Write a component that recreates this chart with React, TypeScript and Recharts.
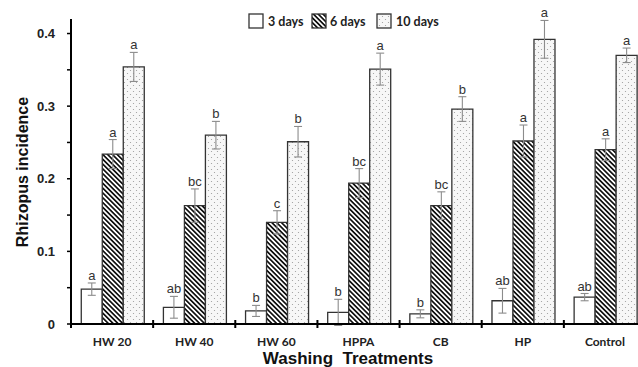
import React from "react";
import { Bar, BarChart, ErrorBar, LabelList, XAxis, YAxis, Label } from "recharts";

// Washing treatments vs Rhizopus incidence at 3 / 6 / 10 days
const treatments = ["HW 20", "HW 40", "HW 60", "HPPA", "CB", "HP", "Control"];

const day3 = [0.048, 0.023, 0.018, 0.016, 0.014, 0.032, 0.037];
const day3Err = [0.0085, 0.015, 0.0076, 0.018, 0.0055, 0.017, 0.005];
const day3Letters = ["a", "ab", "b", "b", "b", "ab", "ab"];

const day6 = [0.234, 0.163, 0.14, 0.194, 0.163, 0.252, 0.24];
const day6Err = [0.02, 0.023, 0.016, 0.02, 0.019, 0.022, 0.015];
const day6Letters = ["a", "bc", "c", "bc", "bc", "a", "a"];

const day10 = [0.354, 0.26, 0.251, 0.351, 0.296, 0.392, 0.37];
const day10Err = [0.02, 0.019, 0.021, 0.022, 0.017, 0.026, 0.01];
const day10Letters = ["a", "b", "b", "a", "b", "a", "a"];

const yTicks = [0, 0.05, 0.1, 0.15, 0.2, 0.25, 0.3, 0.35, 0.4];

const data = treatments.map((name, i) => ({
  name,
  d3: day3[i],
  e3: day3Err[i],
  d6: day6[i],
  e6: day6Err[i],
  d10: day10[i],
  e10: day10Err[i],
}));

// layout
const CHART_W = 660;
const CHART_H = 367;
const MARGIN = { top: 19, right: 14, bottom: 0, left: 0 };
const Y_AXIS_W = 71;
const X_AXIS_H = 43;
const AXIS_Y = CHART_H - MARGIN.bottom - X_AXIS_H;
const BAND = (CHART_W - MARGIN.right - MARGIN.left - Y_AXIS_W) / treatments.length;

const ARIAL = "'Liberation Sans', Arial, sans-serif";
const CALIBRI = "Lato, 'Open Sans', sans-serif";
const BAR_STROKE = "#333";
const ERR_STROKE = "#8c8c8c";

function letterLabel(letters: string[], errs: number[]) {
  return (props: any) => {
    const { x = 0, y = 0, width = 0, height = 0, value, index = 0 } = props;
    const v = Number(value);
    // error bar length in px, from the bar's own scale (height / value)
    const errPx = v ? (Number(height) * errs[index]) / v : 0;
    return (
      <text
        x={Number(x) + Number(width) / 2}
        y={Number(y) - errPx - 3}
        textAnchor="middle"
        fontSize={13}
        fontFamily={ARIAL}
        fill="#333"
      >
        {letters[index]}
      </text>
    );
  };
}

/** Category label centred, with a boundary tick mark on the axis at the band's left edge. */
function TreatmentTick({ x = 0, payload }: { x?: number; payload?: { value?: string } }) {
  const left = x - BAND / 2;
  return (
    <g>
      <line x1={left} x2={left} y1={AXIS_Y - 4} y2={AXIS_Y + 4} stroke="#000" strokeWidth={2} />
      <text
        x={x}
        y={AXIS_Y + 22}
        textAnchor="middle"
        fontSize={12}
        fontWeight={700}
        fontFamily={CALIBRI}
        fill="#222"
      >
        {payload?.value ?? ""}
      </text>
    </g>
  );
}

function Patterns({ prefix }: { prefix: string }) {
  return (
    <defs>
      <pattern
        id={`${prefix}-hatch`}
        patternUnits="userSpaceOnUse"
        width={3.4}
        height={3.4}
        patternTransform="rotate(-45)"
      >
        <rect width={3.4} height={3.4} fill="#fff" />
        <rect width={1.7} height={3.4} fill="#111" />
      </pattern>
      <pattern id={`${prefix}-dots`} patternUnits="userSpaceOnUse" width={6} height={6}>
        <rect width={6} height={6} fill="#f7f7f7" />
        <circle cx={1.5} cy={1.5} r={0.6} fill="#9a9a9a" />
        <circle cx={4.5} cy={4.5} r={0.6} fill="#9a9a9a" />
      </pattern>
    </defs>
  );
}

const legendItems = [
  { label: "3 days", fill: "#fff", box: 249, text: 268 },
  { label: "6 days", fill: "url(#lg-hatch)", box: 312, text: 330 },
  { label: "10 days", fill: "url(#lg-dots)", box: 377, text: 396 },
];

function ChartLegend() {
  return (
    <svg
      width={CHART_W}
      height={40}
      style={{ position: "absolute", left: 0, top: 0, pointerEvents: "none" }}
    >
      <Patterns prefix="lg" />
      {legendItems.map((it) => (
        <g key={it.label}>
          <rect x={it.box} y={14} width={14} height={14} fill={it.fill} stroke={BAR_STROKE} strokeWidth={1.3} />
          <text x={it.text} y={26} fontSize={12.5} fontWeight={700} fontFamily={CALIBRI} fill="#222">
            {it.label}
          </text>
        </g>
      ))}
    </svg>
  );
}

export default function App() {
  return (
    <div
      style={{
        position: "absolute",
        left: 0,
        top: 0,
        width: 638,
        height: 367,
        overflow: "hidden",
        background: "#fff",
      }}
    >
      <BarChart
        width={CHART_W}
        height={CHART_H}
        data={data}
        margin={MARGIN}
        barCategoryGap="12.5%"
        barGap={0}
      >
        <Patterns prefix="ch" />
        <XAxis
          dataKey="name"
          height={X_AXIS_H}
          axisLine={{ stroke: "#000", strokeWidth: 2 }}
          tickLine={false}
          interval={0}
          tick={<TreatmentTick />}
        >
          <Label
            content={() => (
              <text
                x={348}
                y={AXIS_Y + 40}
                textAnchor="middle"
                fontSize={17}
                fontWeight={700}
                fontFamily={ARIAL}
                fill="#111"
                style={{ whiteSpace: "pre" }}
              >
                {"Washing  Treatments"}
              </text>
            )}
          />
        </XAxis>
        <YAxis
          width={Y_AXIS_W}
          domain={[0, 0.42]}
          ticks={yTicks}
          interval={0}
          allowDataOverflow
          axisLine={{ stroke: "#000", strokeWidth: 2 }}
          tickLine={{ stroke: "#000", strokeWidth: 1.5 }}
          tickSize={4}
          tickMargin={12}
          tick={{ fontSize: 13, fontWeight: 700, fontFamily: ARIAL, fill: "#222" }}
          tickFormatter={(v: number) => {
            const k = Math.round(v * 100);
            if (k % 10 !== 0) return "";
            return k === 0 ? "0" : (k / 100).toFixed(1);
          }}
        >
          <Label
            content={() => (
              <text
                transform={`translate(28, 172) rotate(-90)`}
                textAnchor="middle"
                fontSize={16}
                fontWeight={700}
                fontFamily={ARIAL}
                fill="#111"
              >
                Rhizopus incidence
              </text>
            )}
          />
        </YAxis>
        <Bar dataKey="d3" fill="#fff" stroke={BAR_STROKE} strokeWidth={1.3} isAnimationActive={false}>
          <ErrorBar dataKey="e3" width={4} stroke={ERR_STROKE} strokeWidth={1.1} direction="y" />
          <LabelList dataKey="d3" content={letterLabel(day3Letters, day3Err)} />
        </Bar>
        <Bar dataKey="d6" fill="url(#ch-hatch)" stroke={BAR_STROKE} strokeWidth={1.3} isAnimationActive={false}>
          <ErrorBar dataKey="e6" width={4} stroke={ERR_STROKE} strokeWidth={1.1} direction="y" />
          <LabelList dataKey="d6" content={letterLabel(day6Letters, day6Err)} />
        </Bar>
        <Bar dataKey="d10" fill="url(#ch-dots)" stroke={BAR_STROKE} strokeWidth={1.3} isAnimationActive={false}>
          <ErrorBar dataKey="e10" width={4} stroke={ERR_STROKE} strokeWidth={1.1} direction="y" />
          <LabelList dataKey="d10" content={letterLabel(day10Letters, day10Err)} />
        </Bar>
      </BarChart>
      <ChartLegend />
    </div>
  );
}
